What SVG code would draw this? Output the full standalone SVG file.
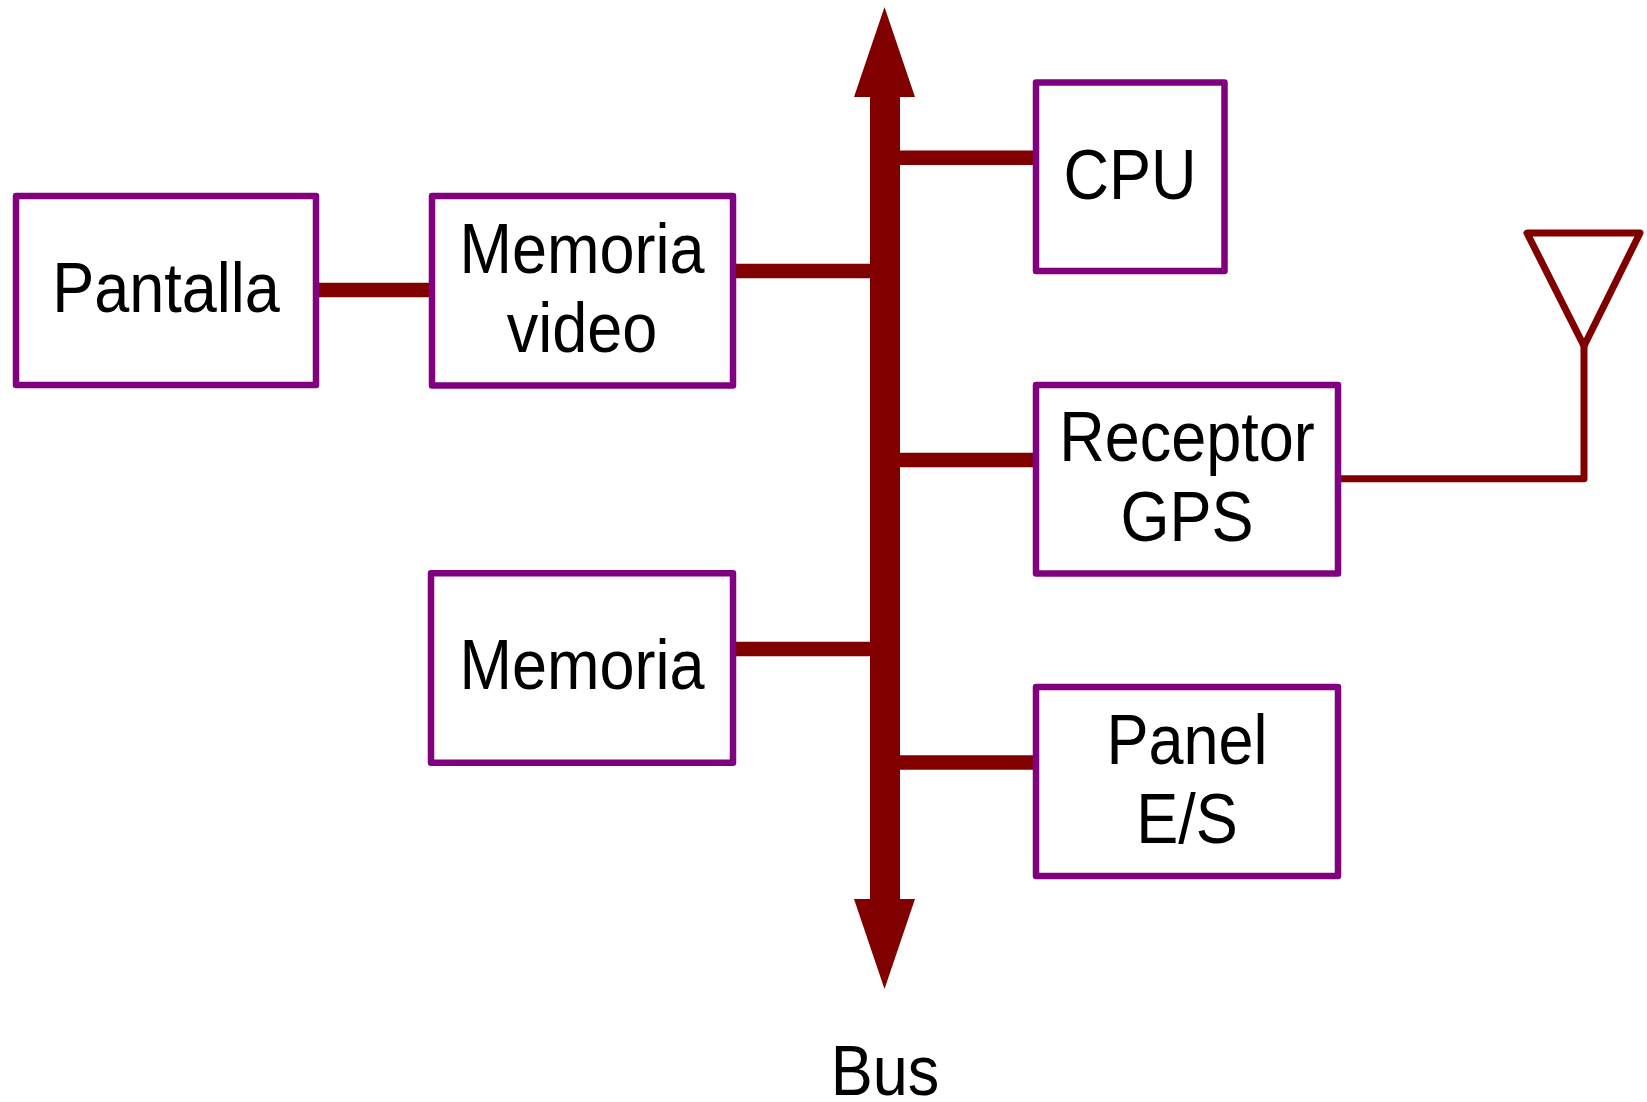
<svg xmlns="http://www.w3.org/2000/svg" width="1647" height="1102" viewBox="0 0 1647 1102">
  <style>
    .box { fill: #ffffff; stroke: #800080; stroke-width: 6.5; stroke-linejoin: round; }
    .wire { stroke: #800000; stroke-width: 14.5; fill: none; }
    .thin { stroke: #800000; stroke-width: 7; fill: none; stroke-linejoin: round; stroke-linecap: round; }
    .lbl { font-family: "Liberation Sans", Arial, Helvetica, sans-serif; font-size: 70px; fill: #000000; text-anchor: middle; }
  </style>
  <rect width="1647" height="1102" fill="#ffffff"/>

  <!-- connectors -->
  <g id="connectors">
    <!-- system bus with arrowheads at both ends -->
    <polygon fill="#800000" points="884.5,7 915,97 900,97 900,899 915,899 884.5,989 854,899 870,899 870,97 854,97"/>
    <line class="wire" x1="316" y1="290" x2="432" y2="290"/>
    <line class="wire" x1="733" y1="271" x2="871" y2="271"/>
    <line class="wire" x1="899" y1="157.7" x2="1036" y2="157.7"/>
    <line class="wire" x1="899" y1="460" x2="1036" y2="460"/>
    <line class="wire" x1="733" y1="649" x2="871" y2="649"/>
    <line class="wire" x1="899" y1="762.5" x2="1036" y2="762.5"/>
    <!-- antenna feed and antenna symbol -->
    <polyline class="thin" points="1338,478.7 1584,478.7 1584,346"/>
    <polygon class="thin" points="1527,233 1640,233 1584,346"/>
  </g>

  <g id="pantalla">
    <rect class="box" x="16" y="196" width="300" height="189"/>
    <text class="lbl" transform="matrix(0.9 0 0 1 166 0)" x="0" y="312">Pantalla</text>
  </g>

  <g id="memoria-video">
    <rect class="box" x="432" y="196" width="301" height="189.5"/>
    <text class="lbl" transform="matrix(0.9 0 0 1 582 0)" x="0" y="272.7">Memoria</text>
    <text class="lbl" transform="matrix(0.9 0 0 1 582 0)" x="0" y="351.7">video</text>
  </g>

  <g id="cpu">
    <rect class="box" x="1036" y="82.5" width="188.5" height="188.5"/>
    <text class="lbl" transform="matrix(0.9 0 0 1 1130 0)" x="0" y="199">CPU</text>
  </g>

  <g id="receptor-gps">
    <rect class="box" x="1036" y="385" width="302" height="188.5"/>
    <text class="lbl" transform="matrix(0.9 0 0 1 1187 0)" x="0" y="461">Receptor</text>
    <text class="lbl" transform="matrix(0.9 0 0 1 1187 0)" x="0" y="540.7">GPS</text>
  </g>

  <g id="memoria">
    <rect class="box" x="431" y="573.3" width="302" height="189.4"/>
    <text class="lbl" transform="matrix(0.9 0 0 1 582 0)" x="0" y="689.3">Memoria</text>
  </g>

  <g id="panel-es">
    <rect class="box" x="1036" y="687" width="302" height="189"/>
    <text class="lbl" transform="matrix(0.9 0 0 1 1187 0)" x="0" y="764.3">Panel</text>
    <text class="lbl" transform="matrix(0.9 0 0 1 1187 0)" x="0" y="842.7">E/S</text>
  </g>

  <g id="bus-label">
    <text class="lbl" transform="matrix(0.9 0 0 1 885 0)" x="0" y="1095">Bus</text>
  </g>
</svg>
